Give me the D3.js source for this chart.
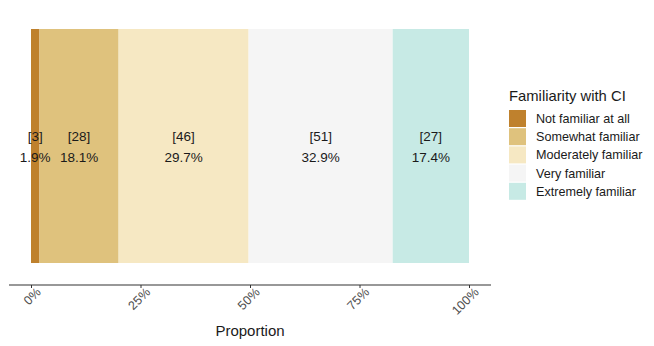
<!DOCTYPE html>
<html>
<head>
<meta charset="utf-8">
<script src="https://cdn.jsdelivr.net/npm/d3@7"></script>
<style>
  body { margin: 0; background: #fff; }
  text { font-family: "Liberation Sans", Arial, sans-serif; }
</style>
</head>
<body>
<div class="chart"></div>
<script>
// data
const categories = ["Not familiar at all", "Somewhat familiar", "Moderately familiar", "Very familiar", "Extremely familiar"];
const counts = [3, 28, 46, 51, 27];
const colors = ["#BF812D", "#DFC27D", "#F6E8C3", "#F5F5F5", "#C7EAE5"];
const tickValues = [0, 0.25, 0.5, 0.75, 1];

const width = 654, height = 346;
const margin = {top: 29, left: 31, right: 185, bottom: 83};

const svg = d3.select(".chart").append("svg")
    .attr("width", width)
    .attr("height", height);

const total = d3.sum(counts);
let cum = 0;
const segs = counts.map((c, i) => {
    const s = {cat: categories[i], n: c, p: c / total, x0: cum / total};
    cum += c;
    s.x1 = cum / total;
    return s;
});

const x = d3.scaleLinear().domain([0, 1]).range([margin.left, 469]);
const barTop = 29, barBottom = 263;

const color = d3.scaleOrdinal().domain(categories).range(colors);

svg.selectAll("rect.seg")
    .data(segs)
    .enter().append("rect")
    .attr("class", "seg")
    .attr("x", d => x(d.x0))
    .attr("y", barTop)
    .attr("width", d => x(d.x1) - x(d.x0))
    .attr("height", barBottom - barTop)
    .attr("fill", d => color(d.cat));

// labels
const lab = svg.selectAll("g.lab")
    .data(segs)
    .enter().append("g")
    .attr("class", "lab")
    .attr("transform", d => "translate(" + x((d.x0 + d.x1) / 2) + ",0)");
lab.append("text")
    .attr("y", 141)
    .attr("text-anchor", "middle")
    .style("font-size", "13.5px")
    .attr("fill", "#1a1a1a")
    .text(d => "[" + d.n + "]");
lab.append("text")
    .attr("y", 162)
    .attr("text-anchor", "middle")
    .style("font-size", "13.5px")
    .attr("fill", "#1a1a1a")
    .text(d => (d.p * 100).toFixed(1) + "%");

// x axis
const axisY = 285;
svg.append("line")
    .attr("x1", 9).attr("x2", 491)
    .attr("y1", axisY).attr("y2", axisY)
    .attr("stroke", "#333").attr("stroke-width", 1.1);

const ax = svg.append("g")
    .attr("transform", "translate(0," + axisY + ")")
    .call(d3.axisBottom(x).tickValues(tickValues).tickFormat(d3.format(".0%")).tickSize(3).tickPadding(2));
ax.select(".domain").remove();
ax.selectAll(".tick line").attr("stroke", "#333");
ax.selectAll(".tick text")
    .attr("fill", "#4d4d4d")
    .style("font-size", "12.5px")
    .attr("text-anchor", "end")
    .attr("dy", null)
    .attr("y", 0)
    .attr("transform", "translate(10,8) rotate(-45)");

svg.append("text")
    .attr("x", x(0.5))
    .attr("y", 336)
    .attr("text-anchor", "middle")
    .style("font-size", "15px")
    .attr("fill", "#1a1a1a")
    .text("Proportion");

// legend
const leg = svg.append("g").attr("transform", "translate(509,0)");
leg.append("text")
    .attr("x", 0).attr("y", 101)
    .style("font-size", "14.8px")
    .attr("fill", "#1a1a1a")
    .text("Familiarity with CI");
const items = leg.selectAll("g.item")
    .data(categories)
    .enter().append("g")
    .attr("class", "item")
    .attr("transform", (d, i) => "translate(0," + (110 + i * 18.2) + ")");
items.append("rect")
    .attr("width", 17).attr("height", 17)
    .attr("fill", d => color(d));
items.append("text")
    .attr("x", 27).attr("y", 13)
    .style("font-size", "12.6px")
    .attr("fill", "#1a1a1a")
    .text(d => d);
</script>
</body>
</html>
